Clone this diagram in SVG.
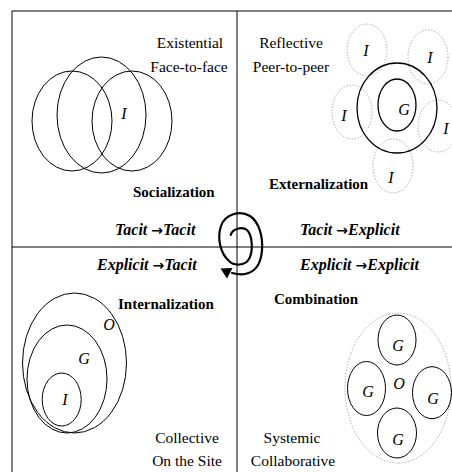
<svg xmlns="http://www.w3.org/2000/svg" width="452" height="472" viewBox="0 0 452 472">
<style>
.t{font-family:"Liberation Serif","Times New Roman",serif;font-size:15.5px;fill:#000;text-anchor:middle}
.b{font-family:"Liberation Serif","Times New Roman",serif;font-size:15px;font-weight:bold;fill:#000}
.bi{font-family:"Liberation Serif","Times New Roman",serif;font-size:16px;font-weight:bold;font-style:italic;fill:#000}
.ar{font-family:"DejaVu Sans",sans-serif;font-style:normal;font-size:14px;font-weight:bold}
.l{font-family:"Liberation Serif","Times New Roman",serif;font-size:16px;font-style:italic;fill:#000;text-anchor:middle}
.c{fill:none;stroke:#000;stroke-width:1}
.ck{fill:none;stroke:#000;stroke-width:1.3}
.d{fill:none;stroke:#999;stroke-width:0.8;stroke-dasharray:1.5 1.5}
.frame{stroke:#000;stroke-width:1;fill:none}
</style>
<rect width="452" height="472" fill="#fff"/>
<g id="frame">
<line class="frame" x1="12" y1="11" x2="452" y2="11"/>
<line class="frame" x1="12" y1="11" x2="12" y2="472"/>
<line class="frame" x1="237" y1="11" x2="237" y2="472"/>
<line class="frame" x1="12" y1="247" x2="452" y2="247"/>
</g>
<g id="socialization">
<ellipse class="c" cx="72" cy="121" rx="40" ry="50"/>
<ellipse class="c" cx="101.5" cy="115" rx="44.5" ry="58"/>
<ellipse class="c" cx="132" cy="121" rx="40" ry="50"/>
<text class="l" x="124" y="119">I</text>
<text class="t" x="190" y="48">Existential</text>
<text class="t" x="189" y="72">Face-to-face</text>
<text class="b" x="133" y="197">Socialization</text>
</g>
<g id="externalization">
<ellipse class="d" cx="367" cy="50" rx="20" ry="26"/>
<ellipse class="d" cx="428" cy="57" rx="20" ry="27"/>
<ellipse class="d" cx="352" cy="112" rx="20" ry="27"/>
<ellipse class="d" cx="438" cy="126" rx="20" ry="26"/>
<ellipse class="d" cx="393" cy="166" rx="20" ry="27"/>
<ellipse class="ck" cx="397" cy="108" rx="40" ry="45"/>
<ellipse class="ck" cx="397" cy="105" rx="19" ry="26"/>
<text class="l" x="404" y="115">G</text>
<text class="l" x="366" y="56">I</text>
<text class="l" x="430" y="63">I</text>
<text class="l" x="344" y="121">I</text>
<text class="l" x="446" y="134">I</text>
<text class="l" x="391" y="183">I</text>
<text class="t" x="291" y="48">Reflective</text>
<text class="t" x="291" y="72">Peer-to-peer</text>
<text class="b" x="269" y="189">Externalization</text>
</g>
<g id="internalization">
<ellipse class="c" cx="74.5" cy="363" rx="52" ry="70"/>
<ellipse class="c" cx="67" cy="379" rx="40" ry="54"/>
<ellipse class="c" cx="61.7" cy="399.5" rx="19.5" ry="26.5"/>
<text class="l" x="109" y="330">O</text>
<text class="l" x="84" y="364">G</text>
<text class="l" x="65" y="405">I</text>
<text class="b" x="118" y="309">Internalization</text>
<text class="t" x="187" y="443">Collective</text>
<text class="t" x="187" y="466">On the Site</text>
</g>
<g id="combination">
<ellipse class="d" cx="398" cy="388" rx="53" ry="75"/>
<ellipse class="c" cx="397" cy="340" rx="19" ry="25"/>
<ellipse class="c" cx="366.5" cy="388.5" rx="19" ry="27"/>
<ellipse class="c" cx="432" cy="392.7" rx="19.5" ry="26"/>
<ellipse class="c" cx="397" cy="433" rx="19.5" ry="25"/>
<text class="l" x="398" y="351">G</text>
<text class="l" x="368" y="397">G</text>
<text class="l" x="433" y="404">G</text>
<text class="l" x="398" y="445">G</text>
<text class="l" x="399" y="389">O</text>
<text class="b" x="274" y="304">Combination</text>
<text class="t" x="292" y="443">Systemic</text>
<text class="t" x="293" y="466">Collaborative</text>
</g>
<g id="modes">
<text class="bi" x="115" y="235">Tacit <tspan class="ar">→</tspan>Tacit</text>
<text class="bi" x="300" y="235">Tacit <tspan class="ar">→</tspan>Explicit</text>
<text class="bi" x="97" y="270">Explicit <tspan class="ar">→</tspan>Tacit</text>
<text class="bi" x="300" y="270">Explicit <tspan class="ar">→</tspan>Explicit</text>
</g>
<g id="connectors">
<path d="M230.7,235 C232,229 242,226 247,230 C253,236 253,252 249,259 C245,266 234,266 229,261 C220,253 217,238 221,226 C225,214 240,210 250,216 C259,222 263,236 262,250 C261,264 256,272 245,274 C240,275 236,274 232,273" fill="none" stroke="#000" stroke-width="2.2" stroke-linecap="round"/>
<polygon points="220.5,268.5 232.5,268 227,278.5" fill="#000"/>
</g>
</svg>
